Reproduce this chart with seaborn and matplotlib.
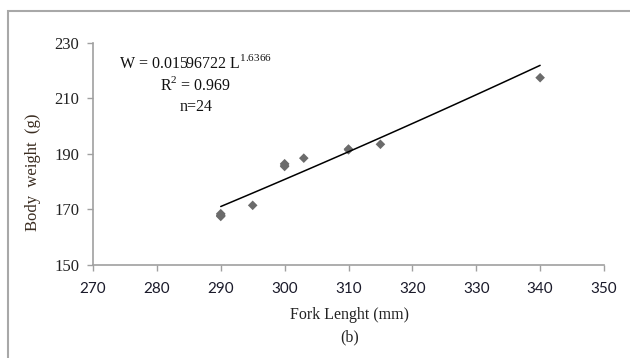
import numpy as np
import pandas as pd
import seaborn as sns
import matplotlib.pyplot as plt
from matplotlib.patches import Rectangle

# Fork length (mm) and body weight (g)
fork_length = [290, 290, 290, 290, 295, 300, 300, 300, 303, 310, 310, 315, 340]
body_weight = [167.5, 168.0, 168.5, 167.8, 171.5, 185.5, 186.5, 186.0, 188.5, 191.5, 191.8, 193.5, 217.5]

# Power model printed on the chart: W = a * L^b
coef_a = 0.01596722
coef_b = 1.6366
fit_range = [290, 340]

x_ticks = [270, 280, 290, 300, 310, 320, 330, 340, 350]
y_ticks = [150, 170, 190, 210, 230]

sns.set_style("white")
plt.rcParams['font.family'] = ['Liberation Serif', 'DejaVu Serif']

pts = pd.DataFrame({"L": fork_length, "W": body_weight})
L = np.linspace(fit_range[0], fit_range[1], 100)
fit = pd.DataFrame({"L": L, "W": coef_a * L ** coef_b})

fig = plt.figure(figsize=(6.3, 3.58), dpi=100)
# axes box: x 93..604 px, y 43..265 px
ax = fig.add_axes([93 / 630, 1 - 265 / 358, 511 / 630, 222 / 358])

sns.scatterplot(data=pts, x="L", y="W", marker="D", s=24, color="#6b6b6b",
                edgecolor="none", ax=ax)
sns.lineplot(data=fit, x="L", y="W", color="black", linewidth=1.1, ax=ax)

ax.set_xlim(270, 350)
ax.set_ylim(150, 230)
ax.set_xticks(x_ticks)
ax.set_yticks(y_ticks)
ax.set_xlabel("")
ax.set_ylabel("")
ax.tick_params(axis="both", direction="out", length=4, width=1, color="#a0a0a0",
               bottom=True, left=True, pad=6)
ax.tick_params(axis="y", labelsize=12, labelcolor="#222222")
ax.tick_params(axis="x", labelsize=11, labelcolor="#1a1a2a", pad=8)
for lab in ax.get_xticklabels():
    lab.set_family(['Lato', 'DejaVu Sans'])
for side in ["top", "right"]:
    ax.spines[side].set_visible(False)
for side in ["left", "bottom"]:
    ax.spines[side].set_color("#a0a0a0")
    ax.spines[side].set_linewidth(1.2)

# equation block
fig.text(196 / 630, 1 - 63 / 358, r"W = 0.01596722 L$^{\mathregular{1.6366}}$",
         ha="center", va="center", fontsize=11.5, color="#111111")
fig.text(196 / 630, 1 - 85 / 358, r"R$^{\mathregular{2}}$ = 0.969", ha="center", va="center",
         fontsize=11.5, color="#111111")
fig.text(196 / 630, 1 - 107 / 358, "n=24", ha="center", va="center",
         fontsize=11.5, color="#111111")

fig.text(350 / 630, 1 - 315 / 358, "Fork Lenght (mm)", ha="center", va="center",
         fontsize=11.5, color="#222222")
fig.text(350 / 630, 1 - 337 / 358, "(b)", ha="center", va="center",
         fontsize=11.5, color="#222222")
fig.text(33 / 630, 1 - 172 / 358, "Body  weight  (g)", ha="center", va="center",
         rotation=90, fontsize=12, color="#3a2c20")

# outer frame (only top and left visible in the crop)
fig.patches.append(Rectangle((8 / 630, -0.05), 1.0, 1 - 11 / 358 + 0.05,
                             transform=fig.transFigure, fill=False,
                             edgecolor="#a8a8a8", linewidth=1.5))

fig.savefig("out.png", dpi=100)
